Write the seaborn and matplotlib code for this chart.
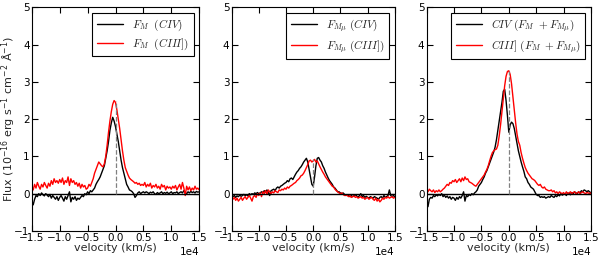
import numpy as np
import matplotlib
matplotlib.use("Agg")
import matplotlib.pyplot as plt
import seaborn as sns

# ------------------ DATA ------------------
# velocity grid (km/s), one sample every 250 km/s
velocity = np.arange(-15000, 15001, 250)

# panel 1: F_M
fm_civ = [
    -0.20, -0.30, -0.15, -0.05, -0.08, 0.00, -0.05, 0.02, -0.03, -0.06,
    0.00, -0.04, -0.08, -0.02, -0.12, -0.05, -0.10, -0.15, -0.08, -0.18,
    -0.10, -0.05, -0.12, -0.20, -0.08, -0.15, -0.05, 0.05, -0.22, -0.10,
    -0.15, -0.08, -0.18, -0.12, -0.15, -0.10, -0.05, -0.08, 0.00, -0.03,
    0.05, 0.00, 0.08, 0.05, 0.10, 0.15, 0.25, 0.32, 0.38, 0.45,
    0.55, 0.65, 0.75, 0.95, 1.15, 1.40, 1.70, 1.90, 2.05, 1.95,
    1.80, 1.60, 1.40, 1.15, 0.90, 0.70, 0.55, 0.40, 0.25, 0.18,
    0.10, 0.08, 0.05, 0.00, -0.10, -0.05, 0.02, 0.05, 0.00, 0.03,
    0.05, 0.02, 0.05, 0.03, 0.00, 0.04, 0.02, 0.05, 0.00, -0.02,
    0.03, 0.00, 0.02, 0.05, 0.00, 0.03, 0.01, 0.04, 0.00, 0.02,
    0.05, 0.00, 0.03, 0.02, 0.05, 0.00, 0.03, 0.05, 0.02, 0.08,
    0.03, 0.00, 0.05, 0.02, 0.06, 0.03, 0.05, 0.02, 0.06, 0.04,
    0.05,
]
fm_ciii = [
    0.20, 0.10, 0.25, 0.15, 0.30, 0.20, 0.12, 0.25, 0.18, 0.30,
    0.22, 0.15, 0.28, 0.20, 0.35, 0.25, 0.40, 0.30, 0.35, 0.28,
    0.38, 0.30, 0.42, 0.25, 0.35, 0.30, 0.45, 0.22, 0.40, 0.30,
    0.35, 0.25, 0.30, 0.20, 0.28, 0.15, 0.25, 0.18, 0.22, 0.12,
    0.15, 0.25, 0.20, 0.30, 0.40, 0.55, 0.65, 0.75, 0.85, 0.80,
    0.75, 0.72, 0.80, 1.00, 1.30, 1.65, 1.95, 2.20, 2.40, 2.50,
    2.45, 2.25, 2.00, 1.75, 1.45, 1.15, 0.90, 0.70, 0.60, 0.50,
    0.42, 0.38, 0.35, 0.32, 0.28, 0.30, 0.25, 0.28, 0.22, 0.25,
    0.22, 0.30, 0.18, 0.25, 0.20, 0.28, 0.15, 0.22, 0.18, 0.25,
    0.15, 0.20, 0.12, 0.25, 0.18, 0.22, 0.10, 0.20, 0.15, 0.18,
    0.12, 0.20, 0.15, 0.22, 0.10, 0.18, 0.25, 0.12, 0.30, 0.15,
    -0.05, 0.20, 0.10, 0.18, 0.08, 0.15, 0.10, 0.20, 0.12, 0.15,
    0.10,
]

# panel 2: F_Mmu
fmu_civ = [
    -0.05, -0.08, -0.05, -0.10, -0.06, -0.08, -0.04, -0.07, -0.05, -0.02,
    -0.05, -0.03, -0.06, 0.00, -0.03, 0.00, -0.02, 0.02, 0.00, 0.03,
    0.00, 0.02, 0.05, 0.03, 0.08, 0.05, 0.10, 0.03, -0.05, 0.08,
    0.10, 0.12, 0.08, 0.15, 0.18, 0.15, 0.20, 0.22, 0.25, 0.28,
    0.30, 0.35, 0.32, 0.40, 0.42, 0.38, 0.45, 0.52, 0.58, 0.62,
    0.68, 0.72, 0.78, 0.85, 0.90, 0.95, 0.85, 0.65, 0.45, 0.25,
    0.20, 0.45, 0.75, 0.95, 0.97, 0.90, 0.85, 0.75, 0.68, 0.58,
    0.50, 0.42, 0.35, 0.30, 0.25, 0.18, 0.15, 0.10, 0.05, 0.05,
    0.02, 0.00, 0.02, -0.02, -0.05, -0.03, -0.05, -0.08, -0.05, -0.08,
    -0.05, -0.03, -0.06, -0.10, -0.05, 0.00, -0.08, -0.05, -0.10, -0.07,
    -0.10, -0.12, -0.08, -0.10, -0.12, -0.08, -0.10, -0.12, -0.15, -0.10,
    -0.08, -0.12, -0.05, -0.10, -0.08, -0.05, 0.10, -0.05, -0.08, -0.05,
    -0.08,
]
fmu_ciii = [
    -0.10, -0.15, -0.10, -0.18, -0.12, -0.20, -0.15, -0.10, -0.18, -0.12,
    -0.08, -0.15, -0.10, -0.05, -0.12, -0.20, -0.08, -0.05, -0.10, 0.00,
    -0.05, 0.02, -0.08, 0.05, 0.00, 0.08, -0.02, 0.10, 0.05, 0.00,
    0.05, 0.02, 0.08, 0.05, 0.03, 0.10, 0.08, 0.12, 0.10, 0.15,
    0.12, 0.18, 0.15, 0.20, 0.22, 0.25, 0.28, 0.30, 0.35, 0.38,
    0.42, 0.48, 0.50, 0.55, 0.62, 0.70, 0.78, 0.88, 0.90, 0.85,
    0.88, 0.92, 0.85, 0.88, 0.80, 0.72, 0.65, 0.58, 0.52, 0.45,
    0.40, 0.35, 0.30, 0.25, 0.20, 0.18, 0.12, 0.08, 0.05, 0.02,
    0.00, 0.02, -0.02, -0.05, -0.03, -0.05, -0.08, -0.05, -0.10, -0.08,
    -0.06, -0.10, -0.08, -0.12, -0.10, -0.08, -0.12, -0.10, -0.15, -0.12,
    -0.10, -0.15, -0.12, -0.10, -0.15, -0.18, -0.12, -0.20, -0.15, -0.22,
    -0.18, -0.12, -0.15, -0.10, -0.12, -0.08, -0.12, -0.10, -0.08, -0.12,
    -0.10,
]

# panel 3: F_M + F_Mmu
sum_civ = [
    -0.20, -0.35, -0.15, -0.10, -0.12, -0.05, -0.08, -0.03, -0.06, -0.02,
    -0.05, 0.00, -0.08, -0.04, -0.10, -0.06, -0.12, -0.08, -0.15, -0.10,
    -0.12, -0.18, -0.10, -0.15, -0.08, -0.12, -0.05, 0.05, -0.20, -0.05,
    -0.08, -0.02, -0.05, 0.00, -0.03, 0.02, 0.05, 0.10, 0.20, 0.25,
    0.30, 0.38, 0.45, 0.55, 0.62, 0.72, 0.82, 0.92, 1.02, 1.12,
    1.25, 1.45, 1.70, 1.95, 2.20, 2.45, 2.75, 2.80, 2.50, 2.10,
    1.65, 1.85, 1.92, 1.88, 1.75, 1.55, 1.35, 1.15, 1.00, 0.85,
    0.72, 0.60, 0.45, 0.40, 0.30, 0.25, 0.18, 0.15, 0.12, 0.05,
    -0.02, -0.05, -0.05, -0.10, -0.08, -0.10, -0.08, -0.12, -0.10, -0.08,
    -0.10, -0.05, -0.08, -0.10, -0.05, -0.08, -0.03, -0.06, 0.00, -0.04,
    -0.02, 0.00, -0.05, 0.02, 0.00, -0.03, 0.03, 0.00, 0.05, 0.02,
    0.00, 0.05, 0.02, 0.08, 0.05, 0.10, 0.08, 0.05, 0.08, 0.05,
    0.02,
]
sum_ciii = [
    0.10, 0.05, 0.12, 0.08, 0.05, 0.10, 0.03, 0.08, 0.05, 0.10,
    0.05, 0.08, 0.12, 0.15, 0.20, 0.25, 0.22, 0.30, 0.28, 0.35,
    0.32, 0.38, 0.30, 0.35, 0.40, 0.32, 0.42, 0.35, 0.45, 0.38,
    0.40, 0.32, 0.30, 0.28, 0.25, 0.22, 0.20, 0.25, 0.30, 0.35,
    0.40, 0.45, 0.50, 0.58, 0.65, 0.75, 0.88, 1.00, 1.10, 1.15,
    1.18, 1.20, 1.30, 1.55, 1.85, 2.20, 2.55, 2.90, 3.15, 3.28,
    3.30, 3.20, 2.95, 2.60, 2.25, 1.90, 1.60, 1.40, 1.30, 1.10,
    0.95, 0.82, 0.70, 0.62, 0.55, 0.50, 0.45, 0.40, 0.38, 0.35,
    0.30, 0.25, 0.22, 0.25, 0.18, 0.15, 0.18, 0.12, 0.10, 0.08,
    0.08, 0.10, 0.05, 0.08, 0.02, 0.05, 0.00, 0.05, 0.02, 0.00,
    0.03, -0.02, 0.05, 0.00, 0.02, 0.05, 0.00, 0.03, 0.05, 0.00,
    0.02, 0.05, 0.00, 0.03, 0.05, 0.02, 0.00, 0.03, 0.02, 0.00,
    0.02,
]

labels_civ = [r"$F_M\ \ (CIV)$", r"$F_{M\mu}\ (CIV)$", r"$CIV\ (F_M\ +F_{M\mu})$"]
labels_ciii = [r"$F_M\ \ (CIII])$", r"$F_{M\mu}\ (CIII])$", r"$CIII]\ (F_M\ +F_{M\mu})$"]
x_ticks = [-15000, -10000, -5000, 0, 5000, 10000, 15000]
y_ticks = [-1, 0, 1, 2, 3, 4, 5]

# ------------------ STYLE ------------------
sns.set_theme(style="ticks", rc={
    "xtick.direction": "in",
    "ytick.direction": "in",
    "xtick.top": True,
    "ytick.right": True,
    "xtick.major.size": 4,
    "ytick.major.size": 4,
    "axes.edgecolor": "black",
    "axes.linewidth": 0.8,
    "xtick.labelsize": 7.5,
    "ytick.labelsize": 7.5,
})
plt.rcParams["font.family"] = ["DejaVu Sans"]

fig = plt.figure(figsize=(6, 2.56), dpi=100)
positions = [
    [0.053, 0.098, 0.279, 0.873],
    [0.386, 0.098, 0.272, 0.873],
    [0.711, 0.098, 0.274, 0.873],
]
civ_series = [fm_civ, fmu_civ, sum_civ]
ciii_series = [fm_ciii, fmu_ciii, sum_ciii]

for i, pos in enumerate(positions):
    ax = fig.add_axes(pos)
    sns.lineplot(x=velocity, y=civ_series[i], color="black", lw=1,
                 estimator=None, label=labels_civ[i], ax=ax)
    sns.lineplot(x=velocity, y=ciii_series[i], color="red", lw=1,
                 estimator=None, label=labels_ciii[i], ax=ax)
    ax.axhline(0, color="black", lw=1)
    ax.vlines(0, 0, max(ciii_series[i]), colors="grey", linestyles="--", lw=0.9)

    ax.set_xlim(-15000, 15000)
    ax.set_ylim(-1, 5)
    ax.set_xticks(x_ticks)
    ax.set_yticks(y_ticks)
    ax.ticklabel_format(axis="x", style="sci", scilimits=(0, 0))
    ax.xaxis.get_offset_text().set_fontsize(7.5)
    ax.set_xlabel("velocity (km/s)", fontsize=8, labelpad=0)
    ax.tick_params(pad=1.5, width=0.8, colors="black")

    leg = ax.legend(loc="upper right", fancybox=False,
                    prop={"size": 8, "math_fontfamily": "cm"},
                    edgecolor="black", framealpha=1, handlelength=2.4,
                    borderpad=0.4, labelspacing=0.35)
    leg.get_frame().set_linewidth(0.8)

    if i == 0:
        ax.set_ylabel(r"Flux ($10^{-16}$ erg s$^{-1}$ cm$^{-2}$ Å$^{-1}$)",
                      fontsize=8)
        ax.yaxis.set_label_coords(-0.085, 0.5)

fig.savefig("out.png", dpi=100)
